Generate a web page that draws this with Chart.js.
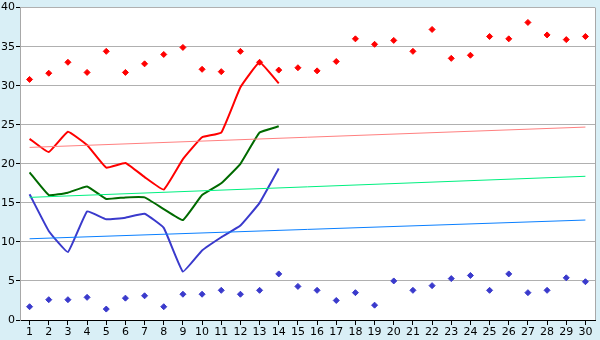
<!DOCTYPE html>
<html>
<head>
<meta charset="utf-8">
<script src="https://cdn.jsdelivr.net/npm/chart.js@4"></script>
<style>
  html, body { margin: 0; padding: 0; background: #d9eff6; }
  canvas { display: block; }
</style>
</head>
<body>
<canvas id="chart" width="600" height="340"></canvas>
<script>
// categories 1..30
const days = ["1","2","3","4","5","6","7","8","9","10","11","12","13","14","15",
  "16","17","18","19","20","21","22","23","24","25","26","27","28","29","30"];

// solid lines (first 14 days)
const redLine   = [23.2, 21.5, 24.1, 22.4, 19.5, 20.1, 18.3, 16.7, 20.6, 23.4, 24.0, 29.8, 33.0, 30.3];
const greenLine = [18.9, 16.0, 16.3, 17.1, 15.5, 15.7, 15.7, 14.2, 12.8, 16.0, 17.5, 20.0, 24.0, 24.8];
const blueLine  = [16.1, 11.4, 8.7, 13.9, 12.9, 13.1, 13.6, 11.8, 6.2, 8.9, 10.6, 12.1, 15.0, 19.4];

// scattered markers (all 30 days)
const redDots  = [30.8, 31.6, 33.0, 31.7, 34.4, 31.7, 32.8, 34.0, 34.9, 32.1, 31.8, 34.4, 33.0, 32.0, 32.3,
  31.9, 33.1, 36.0, 35.3, 35.8, 34.4, 37.2, 33.5, 33.9, 36.3, 36.0, 38.1, 36.5, 35.9, 36.3];
const blueDots = [1.7, 2.6, 2.6, 2.9, 1.4, 2.8, 3.1, 1.7, 3.3, 3.3, 3.8, 3.3, 3.8, 5.9, 4.3,
  3.8, 2.5, 3.5, 1.9, 5.0, 3.8, 4.4, 5.3, 5.7, 3.8, 5.9, 3.5, 3.8, 5.4, 4.9];

// trend lines: value at day 1 and day 30
const redTrend   = [22.1, 24.7];
const greenTrend = [15.7, 18.4];
const blueTrend  = [10.4, 12.8];

const yTicks = [0, 5, 10, 15, 20, 25, 30, 35, 40];

function trend(vals) {
  return [{ x: days[0], y: vals[0] }, { x: days[days.length - 1], y: vals[1] }];
}

// white plot area + grey right border
const plotBg = {
  id: "plotBg",
  beforeDraw(chart) {
    const { ctx, chartArea: a } = chart;
    ctx.save();
    ctx.fillStyle = "#ffffff";
    ctx.fillRect(a.left, a.top, a.right - a.left, a.bottom - a.top);
    ctx.restore();
  },
  afterDatasetsDraw(chart) {
    const { ctx, chartArea: a } = chart;
    ctx.save();
    ctx.strokeStyle = "#a8a8a8";
    ctx.lineWidth = 1;
    ctx.beginPath();
    ctx.moveTo(a.right + 0.5, a.top);
    ctx.lineTo(a.right + 0.5, a.bottom);
    ctx.stroke();
    ctx.restore();
  }
};

const lineStyle = (color) => ({
  borderColor: color, backgroundColor: color, borderWidth: 2,
  pointRadius: 0, fill: false, tension: 0.1
});
const dotStyle = (color) => ({
  borderColor: color, backgroundColor: color, showLine: false,
  pointStyle: "rectRot", pointRadius: 3, pointBorderWidth: 1
});
const trendStyle = (color) => ({
  borderColor: color, backgroundColor: color, borderWidth: 1,
  pointRadius: 0, fill: false, tension: 0
});

new Chart(document.getElementById("chart"), {
  type: "line",
  data: {
    labels: days,
    datasets: [
      { data: trend(redTrend), ...trendStyle("#ff8080") },
      { data: trend(greenTrend), ...trendStyle("#00f080") },
      { data: trend(blueTrend), ...trendStyle("#0a80ff") },
      { data: redDots, ...dotStyle("#ff0000") },
      { data: blueDots, ...dotStyle("#3a3acc") },
      { data: redLine, ...lineStyle("#ff0000") },
      { data: greenLine, ...lineStyle("#006a00") },
      { data: blueLine, ...lineStyle("#3a3acc") }
    ]
  },
  options: {
    responsive: false,
    animation: false,
    layout: { padding: { top: 5, right: 5, left: 0, bottom: 0 } },
    plugins: {
      legend: { display: false },
      tooltip: { enabled: false }
    },
    scales: {
      x: {
        offset: true,
        grid: { drawOnChartArea: false, tickLength: 5, tickColor: "#000", offset: false },
        border: { color: "#000" },
        ticks: {
          color: "#000", padding: 1, maxRotation: 0, autoSkip: false,
          font: { family: "DejaVu Sans", size: 11 }
        },
        afterFit: (s) => { s.height = 20; }
      },
      y: {
        min: yTicks[0],
        max: yTicks[yTicks.length - 1],
        afterBuildTicks: (s) => { s.ticks = yTicks.map(v => ({ value: v })); },
        grid: { color: "#b0b0b0", tickLength: 4, tickColor: "#000" },
        border: { color: "#a8a8a8" },
        ticks: {
          color: "#000", padding: 1,
          font: { family: "DejaVu Sans", size: 11 }
        },
        afterFit: (s) => { s.width = 20; }
      }
    }
  },
  plugins: [plotBg]
});
</script>
</body>
</html>
